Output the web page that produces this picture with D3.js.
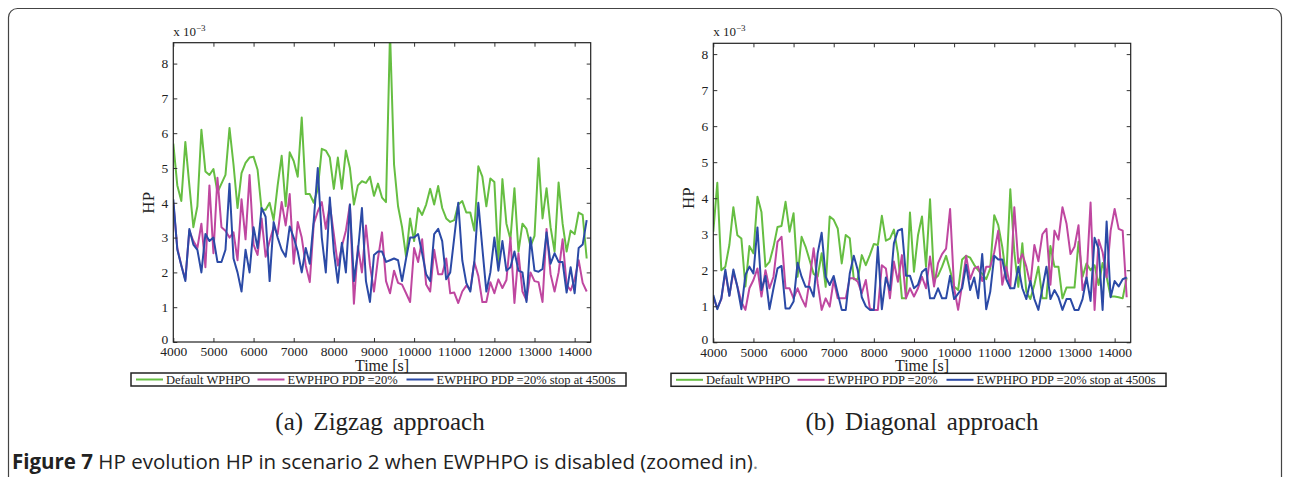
<!DOCTYPE html>
<html>
<head>
<meta charset="utf-8">
<script src="https://cdn.jsdelivr.net/npm/d3@7"></script>
<style>
    body { margin: 0; background: #ffffff; }
    svg { display: block; }
</style>
</head>
<body>
<svg id="canvas" width="1290" height="477"></svg>
<script>
// time axis, one sample every 100 s
var times = d3.range(4000, 14400, 100);
var xTicks = [4000, 5000, 6000, 7000, 8000, 9000, 10000, 11000, 12000, 13000, 14000];
var yTicks = [0, 1, 2, 3, 4, 5, 6, 7, 8];
var seriesNames = ['Default WPHPO', 'EWPHPO PDP =20%', 'EWPHPO PDP =20% stop at 4500s'];

// (a) zigzag, values x 10^-3
var zigDefault = [
    5.7, 4.5, 4.05, 5.75, 4.5, 3.3, 3.9, 6.1, 4.9, 4.8,
    4.97, 4.3, 4.55, 4.8, 6.15, 5.1, 3.85, 4.85, 5.15, 5.3,
    5.32, 4.95, 3.8, 3.8, 4.0, 3.5, 4.5, 5.35, 3.9, 5.45,
    5.2, 4.75, 6.45, 4.25, 4.25, 4.0, 4.4, 5.55, 5.5, 5.3,
    4.4, 5.3, 4.4, 5.5, 5.0, 3.95, 4.5, 4.62, 4.57, 4.75,
    4.2, 4.55, 4.15, 4.02, 8.9, 5.1, 3.9, 3.3, 2.45, 3.55,
    2.9, 3.85, 3.65, 3.95, 4.4, 3.95, 4.48, 3.85, 3.55, 3.45,
    3.5, 3.95, 4.05, 3.72, 3.72, 3.2, 5.05, 4.75, 3.9, 4.7,
    4.6, 2.3, 4.68, 3.4, 2.95, 4.42, 2.6, 3.4, 3.25, 2.75,
    3.05, 5.28, 3.55, 4.42, 3.3, 2.6, 4.58, 3.4, 2.6, 3.2,
    3.1, 3.72, 3.65, 2.4
];
var zigPdp = [
    4.0, 2.7, 2.2, 1.8, 3.2, 2.9, 2.7, 3.4, 2.15, 4.5,
    2.55, 4.72, 3.3, 3.2, 3.0, 3.15, 2.35, 4.1, 2.95, 4.8,
    2.8, 2.5, 3.55, 2.45, 2.9, 3.3, 3.1, 4.02, 3.35, 4.25,
    2.25, 3.45, 3.0, 2.2, 1.72, 3.4, 3.75, 4.02, 3.25, 3.95,
    3.1, 2.2, 2.75, 3.2, 3.95, 1.1, 2.75, 2.0, 3.35, 2.2,
    1.45, 2.4, 3.15, 1.75, 1.4, 2.05, 1.7, 1.65, 1.4, 1.15,
    2.7, 2.3, 2.95, 1.65, 1.45, 2.65, 1.95, 1.95, 2.4, 1.4,
    1.42, 1.12, 1.45, 1.62, 1.5, 2.3, 1.9, 1.15, 1.15, 1.72,
    1.4, 1.8, 1.55, 1.78, 3.0, 1.12, 2.55, 1.45, 1.2, 2.0,
    1.75, 1.72, 1.15, 3.25, 1.95, 1.45, 2.0, 2.95, 1.65, 1.48,
    1.8, 2.35, 1.7, 1.45
];
var zigStop = [
    4.1, 2.65, 2.2, 1.75, 3.25, 2.8, 2.65, 2.0, 3.1, 2.9,
    3.0, 2.3, 2.3, 2.65, 4.55, 2.4, 2.0, 1.45, 2.65, 2.0,
    3.3, 2.7, 3.85, 3.6, 1.75, 3.45, 3.0, 2.65, 2.45, 3.32,
    3.0, 2.6, 2.0, 2.7, 2.25, 3.5, 5.0, 3.0, 2.0, 4.15,
    2.6, 1.7, 2.85, 2.0, 3.95, 1.75, 2.6, 3.85, 1.75, 1.15,
    2.5, 2.6, 2.6, 2.3, 2.35, 2.4, 2.35, 1.75, 2.4, 3.0,
    3.0, 3.1, 2.55, 1.95, 1.75, 3.1, 3.25, 2.9, 1.8, 2.0,
    3.0, 4.0, 2.35, 1.7, 1.45, 2.3, 4.0, 2.7, 1.45, 2.0,
    3.0, 2.05, 2.9, 2.05, 2.15, 2.6, 2.05, 2.0, 1.15, 3.0,
    2.05, 2.02, 2.1, 3.15, 2.25, 2.55, 2.3, 2.3, 1.42, 2.15,
    1.4, 2.7, 2.8, 3.5
];

// (b) diagonal, values x 10^-3
var diagDefault = [
    3.07, 4.43, 2.0, 2.1, 2.7, 3.75, 2.97, 2.88, 1.55, 2.67,
    2.47, 4.04, 3.62, 2.1, 2.23, 2.65, 3.2, 3.23, 3.9, 3.07,
    3.58, 1.82, 2.93, 2.65, 2.28, 1.9, 1.82, 2.47, 1.54, 3.49,
    3.4, 3.16, 2.19, 2.98, 2.89, 1.75, 1.75, 2.42, 2.14, 2.42,
    2.73, 2.7, 3.51, 2.82, 2.88, 3.13, 2.47, 1.22, 1.22, 3.6,
    1.96, 2.97, 3.49, 2.1, 3.97, 1.75, 1.85, 2.1, 2.4, 2.0,
    1.55, 1.45, 2.3, 2.4, 2.35, 2.15, 2.0, 1.9, 1.75, 2.05,
    3.53, 3.25, 2.65, 1.8, 4.25, 2.5, 1.54, 2.75, 1.4, 1.2,
    1.6, 2.1, 1.22, 1.22, 2.67, 2.1, 2.1, 1.22, 1.52, 1.52,
    1.52, 2.79, 1.82, 2.19, 2.0, 2.14, 1.59, 2.2, 1.82, 1.27,
    1.27, 1.25, 1.22, 1.8
];
var diagPdp = [
    1.25, 0.95, 1.2, 1.95, 1.3, 1.95, 1.55, 1.12, 0.9, 1.5,
    1.73, 2.05, 1.27, 2.0, 1.5, 1.82, 2.79, 2.93, 1.5, 1.5,
    1.22, 1.5, 1.22, 0.99, 1.73, 2.61, 1.64, 0.9, 1.22, 0.99,
    1.73, 1.22, 1.22, 1.22, 1.78, 1.78, 1.68, 1.36, 1.73, 0.94,
    0.9, 0.9, 2.14, 2.05, 1.22, 2.24, 1.68, 2.42, 1.22, 1.5,
    1.27, 1.5, 1.82, 1.5, 2.38, 1.55, 2.2, 2.45, 2.6, 3.7,
    1.5, 0.9, 1.6, 2.4, 1.75, 2.05, 2.1, 1.7, 2.1, 2.1,
    2.5, 3.1, 1.6, 2.1, 1.5, 3.75, 2.2, 2.45, 2.1, 1.6,
    2.7, 2.25, 3.0, 3.15, 1.6, 3.1, 2.85, 3.75, 3.3, 2.45,
    2.65, 3.25, 1.45, 1.8, 3.88, 0.9, 2.85, 2.5, 1.8, 3.1,
    3.7, 3.15, 3.1, 1.25
];
var diagStop = [
    1.31, 0.92, 1.22, 2.02, 1.29, 2.02, 1.54, 0.92, 1.87, 2.1,
    1.91, 3.19, 1.45, 1.84, 0.92, 1.5, 2.05, 2.12, 0.94, 0.94,
    1.13, 2.21, 1.82, 1.54, 1.54, 1.27, 2.47, 3.04, 1.82, 1.59,
    1.84, 1.36, 0.9, 0.9, 1.91, 2.4, 2.0, 1.25, 1.0, 0.9,
    0.9, 2.65, 0.92, 1.8, 1.45, 2.75, 3.1, 3.15, 1.85, 1.85,
    1.5, 1.6, 1.95, 2.05, 1.22, 1.22, 1.5, 1.22, 1.22, 1.85,
    1.2, 1.35, 1.5, 2.15, 1.45, 1.8, 1.22, 2.45, 0.92, 1.4,
    2.4, 2.3, 2.3, 1.75, 1.5, 1.5, 2.1, 1.5, 1.2, 1.7,
    1.2, 0.9, 1.5, 2.1, 1.2, 1.45, 1.25, 0.9, 1.2, 1.2,
    0.9, 0.9, 1.2, 1.8, 1.15, 2.9, 2.6, 0.9, 3.35, 1.25,
    1.7, 1.55, 1.75, 1.8
];

var colors = ['#66be42', '#bf47a0', '#2b4aa6'];
var serif = '"Liberation Serif", "Times New Roman", serif';

function drawPanel(config) {
    var svg = d3.select('#canvas');
    var g = svg.append('g');
    var left = config.left, right = config.right, top = config.top, bottom = config.bottom;

    var x = d3.scaleLinear().domain([4000, 14400]).range([left, right]);
    var y = d3.scaleLinear().domain([0, config.yMax]).range([bottom, top]);

    // clip so the spike stops at the frame
    var clipId = 'clip' + config.index;
    svg.append('clipPath').attr('id', clipId)
        .append('rect')
        .attr('x', left).attr('y', top)
        .attr('width', right - left).attr('height', bottom - top);

    var line = d3.line()
        .x(function(d, i) { return x(times[i]); })
        .y(function(d) { return y(d); });

    var plot = g.append('g').attr('clip-path', 'url(#' + clipId + ')');
    config.series.forEach(function(s, i) {
        plot.append('path')
            .datum(s)
            .attr('d', line)
            .attr('fill', 'none')
            .attr('stroke', colors[i])
            .attr('stroke-width', 2)
            .attr('stroke-linejoin', 'round');
    });

    // axes with inward ticks on all four sides (matlab box)
    var tickLen = 4;
    var axB = g.append('g').attr('transform', 'translate(0,' + bottom + ')')
        .call(d3.axisBottom(x).tickValues(xTicks).tickSizeInner(-tickLen).tickSizeOuter(0).tickPadding(6).tickFormat(d3.format('d')));
    var axT = g.append('g').attr('transform', 'translate(0,' + top + ')')
        .call(d3.axisTop(x).tickValues(xTicks).tickSizeInner(-tickLen).tickSizeOuter(0).tickFormat(''));
    var axL = g.append('g').attr('transform', 'translate(' + left + ',0)')
        .call(d3.axisLeft(y).tickValues(yTicks).tickSizeInner(-tickLen).tickSizeOuter(0).tickPadding(5).tickFormat(d3.format('d')));
    var axR = g.append('g').attr('transform', 'translate(' + right + ',0)')
        .call(d3.axisRight(y).tickValues(yTicks).tickSizeInner(-tickLen).tickSizeOuter(0).tickFormat(''));

    [axB, axT, axL, axR].forEach(function(a) {
        a.select('.domain').remove();
        a.selectAll('line').attr('stroke', '#333333').attr('stroke-width', 1);
        a.selectAll('text')
            .attr('fill', '#222222')
            .style('font-family', serif)
            .style('font-size', '13.5px');
    });
    axB.selectAll('text').attr('dy', '0.62em');
    // the zero label sits a little higher than the tick, as in matlab output
    axL.selectAll('text').filter(function(d) { return d === 0; }).attr('dy', '0.1em');

    g.append('rect')
        .attr('x', left).attr('y', top)
        .attr('width', right - left).attr('height', bottom - top)
        .attr('fill', 'none')
        .attr('stroke', '#222222')
        .attr('stroke-width', 1.2);

    // exponent label
    var expo = g.append('text')
        .attr('x', left)
        .attr('y', top - 7)
        .attr('fill', '#222222')
        .style('font-family', serif)
        .style('font-size', '13px');
    expo.append('tspan').text('x 10');
    expo.append('tspan').attr('dy', -5).style('font-size', '9px').text('\u22123');

    g.append('text')
        .attr('transform', 'translate(' + (left - 19) + ',' + y(4) + ') rotate(-90)')
        .attr('text-anchor', 'middle')
        .attr('fill', '#222222')
        .style('font-family', serif)
        .style('font-size', '17px')
        .text('HP');

    g.append('text')
        .attr('x', (left + right) / 2)
        .attr('y', bottom + 29)
        .attr('text-anchor', 'middle')
        .attr('fill', '#222222')
        .style('font-family', serif)
        .style('font-size', '16px')
        .text('Time [s]');

    // legend box under the axis
    var lg = g.append('g');
    var lx = config.legendX, ly = bottom + 31, lw = 495, lh = 13;
    lg.append('rect')
        .attr('x', lx).attr('y', ly)
        .attr('width', lw).attr('height', lh)
        .attr('fill', '#ffffff')
        .attr('stroke', '#222222')
        .attr('stroke-width', 1.5);
    var entryX = [5, 126.5, 275.5];
    seriesNames.forEach(function(name, i) {
        var ex = lx + entryX[i];
        lg.append('line')
            .attr('x1', ex).attr('x2', ex + 27)
            .attr('y1', ly + lh / 2).attr('y2', ly + lh / 2)
            .attr('stroke', colors[i])
            .attr('stroke-width', 2);
        lg.append('text')
            .attr('x', ex + 30)
            .attr('y', ly + lh / 2)
            .attr('dy', '0.35em')
            .attr('fill', '#222222')
            .style('font-family', serif)
            .style('font-size', '12.5px')
            .text(name);
    });

    g.append('text')
        .attr('x', config.captionX)
        .attr('y', 430)
        .attr('text-anchor', 'middle')
        .attr('fill', '#222222')
        .style('font-family', serif)
        .style('font-size', '25px')
        .style('word-spacing', '4px')
        .text(config.caption);
}

(function() {
    var svg = d3.select('#canvas');
    svg.append('rect')
        .attr('x', 8.5).attr('y', 8.5)
        .attr('width', 1273).attr('height', 500)
        .attr('rx', 9)
        .attr('fill', 'none')
        .attr('stroke', '#444444')
        .attr('stroke-width', 1.2);

    var panels = [
        { index: 0, left: 173.3, right: 590.7, top: 42.7, bottom: 342, yMax: 8.6,
          series: [zigDefault, zigPdp, zigStop], legendX: 131, captionX: 380,
          caption: '(a) Zigzag approach' },
        { index: 1, left: 713.3, right: 1130.7, top: 43.3, bottom: 342.3, yMax: 8.3,
          series: [diagDefault, diagPdp, diagStop], legendX: 671, captionX: 922,
          caption: '(b) Diagonal approach' }
    ];
    for (var i = 0; i < panels.length; i++) {
        drawPanel(panels[i]);
    }

    var cap = svg.append('text')
        .attr('x', 12)
        .attr('y', 469)
        .attr('fill', '#222222')
        .style('font-family', '"Open Sans", "Noto Sans", sans-serif')
        .style('font-size', '20.5px');
    cap.append('tspan').style('font-weight', 'bold').text('Figure 7');
    cap.append('tspan').text(' HP evolution HP in scenario 2 when EWPHPO is disabled (zoomed in)');
    cap.append('tspan').attr('fill', '#888888').text('.');
})();
</script>
</body>
</html>
